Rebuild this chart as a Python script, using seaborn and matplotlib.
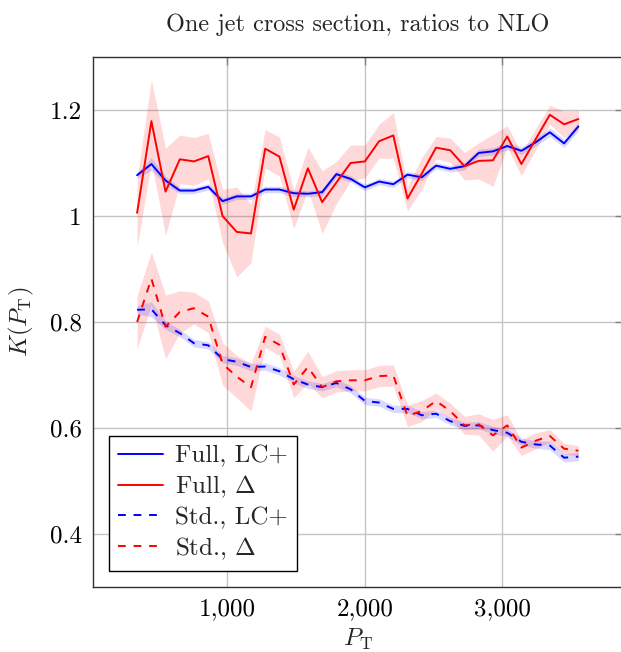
import numpy as np
import pandas as pd
import matplotlib
matplotlib.use("Agg")
import matplotlib.pyplot as plt
from matplotlib.ticker import FuncFormatter, MultipleLocator
import seaborn as sns

# bin centres in P_T
pt = [343, 447, 550, 654, 757, 861, 965, 1068, 1172, 1275, 1379, 1483, 1586, 1690, 1793, 1897,
      2001, 2104, 2208, 2311, 2415, 2519, 2622, 2726, 2829, 2933, 3037, 3140, 3244, 3347, 3451, 3555]

# Full, LC+
full_lc = [1.077, 1.098, 1.067, 1.048, 1.048, 1.055, 1.028, 1.037, 1.037, 1.050, 1.050, 1.043, 1.042, 1.045, 1.079, 1.070,
           1.054, 1.065, 1.060, 1.078, 1.073, 1.095, 1.089, 1.094, 1.119, 1.122, 1.132, 1.123, 1.139, 1.158, 1.137, 1.169]
full_lc_err = [0.006, 0.012, 0.008, 0.006, 0.006, 0.006, 0.006, 0.006, 0.006, 0.006, 0.006, 0.006, 0.006, 0.006, 0.006, 0.006,
               0.006, 0.006, 0.006, 0.006, 0.006, 0.006, 0.006, 0.007, 0.007, 0.007, 0.007, 0.007, 0.007, 0.008, 0.008, 0.008]
# Full, Delta
full_d = [1.006, 1.179, 1.046, 1.107, 1.103, 1.113, 1.000, 0.970, 0.967, 1.127, 1.112, 1.012, 1.090, 1.026, 1.063, 1.100,
          1.103, 1.141, 1.152, 1.033, 1.080, 1.129, 1.124, 1.094, 1.104, 1.105, 1.150, 1.098, 1.145, 1.191, 1.173, 1.183]
full_d_err = [0.065, 0.078, 0.082, 0.046, 0.045, 0.043, 0.050, 0.085, 0.055, 0.036, 0.037, 0.036, 0.040, 0.059, 0.040, 0.034,
              0.031, 0.032, 0.043, 0.023, 0.030, 0.021, 0.023, 0.026, 0.034, 0.049, 0.020, 0.022, 0.020, 0.018, 0.025, 0.016]
# Std., LC+
std_lc = [0.823, 0.824, 0.794, 0.779, 0.760, 0.756, 0.730, 0.725, 0.715, 0.716, 0.707, 0.692, 0.682, 0.677, 0.685, 0.673,
          0.651, 0.648, 0.636, 0.636, 0.624, 0.627, 0.613, 0.604, 0.605, 0.596, 0.591, 0.574, 0.569, 0.567, 0.544, 0.546]
std_lc_err = [0.008, 0.014, 0.008, 0.007, 0.007, 0.007, 0.007, 0.007, 0.007, 0.007, 0.007, 0.007, 0.007, 0.007, 0.007, 0.007,
              0.007, 0.007, 0.007, 0.007, 0.007, 0.007, 0.007, 0.007, 0.007, 0.007, 0.007, 0.007, 0.007, 0.008, 0.008, 0.008]
# Std., Delta
std_d = [0.800, 0.882, 0.791, 0.819, 0.826, 0.810, 0.721, 0.697, 0.677, 0.772, 0.757, 0.682, 0.715, 0.677, 0.688, 0.690,
         0.690, 0.698, 0.699, 0.623, 0.632, 0.651, 0.632, 0.605, 0.607, 0.586, 0.605, 0.563, 0.576, 0.585, 0.561, 0.557]
std_d_err = [0.050, 0.050, 0.060, 0.040, 0.030, 0.030, 0.040, 0.040, 0.045, 0.020, 0.020, 0.025, 0.030, 0.020, 0.020, 0.020,
             0.020, 0.020, 0.020, 0.020, 0.020, 0.015, 0.015, 0.017, 0.020, 0.030, 0.020, 0.015, 0.015, 0.012, 0.010, 0.010]

labels = ["Full, LC+", "Full, $\\Delta$", "Std., LC+", "Std., $\\Delta$"]

sns.set_theme(style="whitegrid")
plt.rcParams['font.family'] = ['cmr10', 'DejaVu Serif']
plt.rcParams['mathtext.fontset'] = 'cm'
plt.rcParams['axes.unicode_minus'] = False

fig = plt.figure(figsize=(6.21, 6.52), dpi=100)
ax = fig.add_axes([93 / 621, 1 - 587 / 652, 529.5 / 621, 530 / 652])

series = [
    (full_lc, full_lc_err, "#0000ff", "-"),
    (full_d, full_d_err, "#ff0000", "-"),
    (std_lc, std_lc_err, "#0000ff", "--"),
    (std_d, std_d_err, "#ff0000", "--"),
]

x = np.array(pt)
for vals, err, col, ls in series:
    v = np.array(vals)
    e = np.array(err)
    ax.fill_between(x, v - e, v + e, color=col, alpha=0.15, linewidth=0, zorder=2)

for (vals, err, col, ls), lab in zip(series, labels):
    d = pd.DataFrame({"pt": pt, "K": vals})
    line_ax = sns.lineplot(data=d, x="pt", y="K", color=col, linewidth=1.4, label=lab, ax=ax, zorder=3)
    ln = line_ax.lines[-1]
    if ls == "--":
        ln.set_dashes((4, 4))

ax.set_xlim(22, 3876)
ax.set_ylim(0.3, 1.3)
ax.xaxis.set_major_locator(MultipleLocator(1000))
ax.yaxis.set_major_locator(MultipleLocator(0.2))
ax.xaxis.set_major_formatter(FuncFormatter(lambda v, p: f"{int(round(v)):,}"))
ax.yaxis.set_major_formatter(FuncFormatter(lambda v, p: f"{v:g}"))

ax.grid(True, color="#c4c4c4", linewidth=1.0)
ax.set_axisbelow(True)
for sp in ax.spines.values():
    sp.set_color("#303030")
    sp.set_linewidth(1.0)
ax.tick_params(direction="in", length=6, width=1.0, color="#808080", top=True, right=True,
               labelsize=18, labelcolor="black", pad=8)

ax.set_title("One jet cross section, ratios to NLO", fontsize=17.5, pad=19)
ax.set_xlabel("$P_\\mathrm{T}$", fontsize=18, labelpad=5)
ax.set_ylabel("$K(P_\\mathrm{T})$", fontsize=18, labelpad=10)

leg = ax.legend(loc="lower left", bbox_to_anchor=(0.03, 0.031), borderaxespad=0, fontsize=18,
                frameon=True, fancybox=False, framealpha=1, edgecolor="black",
                handlelength=1.8, handletextpad=0.5, labelspacing=0.25, borderpad=0.35)
leg.get_frame().set_linewidth(1.0)

fig.savefig("out.png", dpi=100)
